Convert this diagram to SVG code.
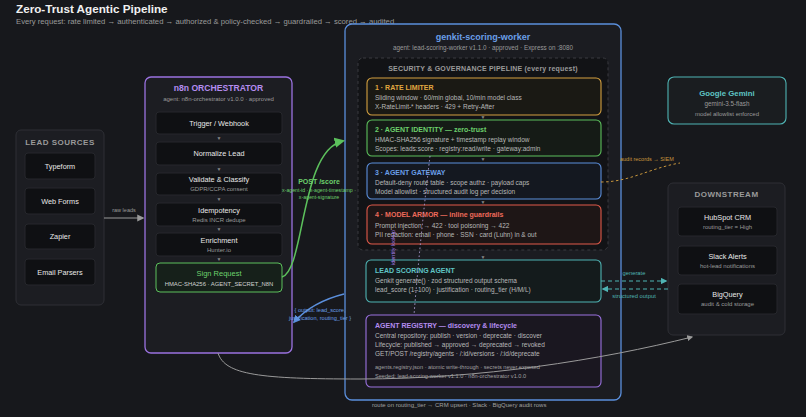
<svg xmlns="http://www.w3.org/2000/svg" width="806" height="417" viewBox="0 0 806 417">
<defs>
<style>
text{font-family:"Liberation Sans",Arial,sans-serif;}
.t{fill:#e8e8e8;font-size:7.3px;text-anchor:middle;}
.s{fill:#9a9a9a;font-size:6px;text-anchor:middle;}
.panel{fill:#1c1d22;stroke:#2e2f35;stroke-width:1;}
.item{fill:#0f1013;stroke:#26272c;stroke-width:1;}
.hd{fill:#9a9a9a;font-size:8px;font-weight:bold;text-anchor:middle;letter-spacing:0.5px;}
.st{font-size:7px;font-weight:bold;}
.sl{fill:#b8b8b8;font-size:6.5px;}
.tri{fill:#888;font-size:5px;text-anchor:middle;}
</style>
<marker id="ag" viewBox="0 0 10 10" refX="8" refY="5" markerWidth="7" markerHeight="7" orient="auto"><path d="M0,0L10,5L0,10z" fill="#5cc05c"/></marker>
<marker id="ab" viewBox="0 0 10 10" refX="8" refY="5" markerWidth="6" markerHeight="6" orient="auto"><path d="M0,0L10,5L0,10z" fill="#5b8fdc"/></marker>
<marker id="agr" viewBox="0 0 10 10" refX="8" refY="5" markerWidth="6" markerHeight="6" orient="auto"><path d="M0,0L10,5L0,10z" fill="#9a9a9a"/></marker>
<marker id="at" viewBox="0 0 10 10" refX="8" refY="5" markerWidth="6" markerHeight="6" orient="auto"><path d="M0,0L10,5L0,10z" fill="#4fb3b3"/></marker>
</defs>
<rect width="806" height="417" fill="#17181c"/>
<text x="16" y="13" style="fill:#f0f0f0;font-size:11.7px;font-weight:bold;">Zero-Trust Agentic Pipeline</text>
<text x="16" y="24" style="fill:#9a9a9a;font-size:7.7px;">Every request: rate limited → authenticated → authorized &amp; policy-checked → guardrailed → scored → audited</text>

<g id="lead-sources">
<rect class="panel" x="16" y="130" width="88" height="175" rx="5"/>
<text class="hd" x="60" y="145">LEAD SOURCES</text>
<rect class="item" x="25" y="153" width="70" height="26" rx="3"/><text class="t" x="60" y="169">Typeform</text>
<rect class="item" x="25" y="188" width="70" height="26" rx="3"/><text class="t" x="60" y="204">Web Forms</text>
<rect class="item" x="25" y="224" width="70" height="25" rx="3"/><text class="t" x="60" y="239">Zapier</text>
<rect class="item" x="25" y="259" width="70" height="26" rx="3"/><text class="t" x="60" y="275">Email Parsers</text>
</g>

<g id="n8n-orchestrator">
<rect x="145" y="77" width="147" height="276" rx="6" fill="#1c1d22" stroke="#9b72e0" stroke-width="1.3"/>
<text x="218.5" y="91" style="fill:#b48cf0;font-size:8.6px;font-weight:bold;text-anchor:middle;">n8n ORCHESTRATOR</text>
<text class="s" x="218.5" y="101">agent: n8n-orchestrator v1.0.0 · approved</text>
<rect class="item" x="156" y="112" width="126" height="22" rx="3"/><text class="t" x="219" y="125.5">Trigger / Webhook</text>
<text class="tri" x="219" y="140">▼</text>
<rect class="item" x="156" y="142" width="126" height="23" rx="3"/><text class="t" x="219" y="156">Normalize Lead</text>
<text class="tri" x="219" y="171">▼</text>
<rect class="item" x="156" y="173" width="126" height="22" rx="3"/><text class="t" x="219" y="182">Validate &amp; Classify</text><text class="s" x="219" y="191">GDPR/CCPA consent</text>
<text class="tri" x="219" y="201">▼</text>
<rect class="item" x="156" y="203" width="126" height="23" rx="3"/><text class="t" x="219" y="213">Idempotency</text><text class="s" x="219" y="222">Redis INCR dedupe</text>
<text class="tri" x="219" y="231">▼</text>
<rect class="item" x="156" y="233" width="126" height="23" rx="3"/><text class="t" x="219" y="243">Enrichment</text><text class="s" x="219" y="252">Hunter.io</text>
<text class="tri" x="219" y="261">▼</text>
<rect x="156" y="263" width="126" height="29" rx="4" fill="#16201a" stroke="#5cc05c" stroke-width="1"/>
<text x="219" y="276" style="fill:#6cd06c;font-size:7.5px;text-anchor:middle;">Sign Request</text>
<text x="219" y="286" style="fill:#d0d0d0;font-size:5.9px;text-anchor:middle;">HMAC-SHA256 · AGENT_SECRET_N8N</text>
</g>

<g id="genkit-scoring-worker">
<rect x="345" y="24" width="276" height="376" rx="7" fill="#1b1c21" stroke="#5b8fdc" stroke-width="1.3"/>
<text x="483" y="40" style="fill:#6a9fe8;font-size:9px;font-weight:bold;text-anchor:middle;">genkit-scoring-worker</text>
<text class="s" x="483" y="50" style="font-size:6.3px;">agent: lead-scoring-worker v1.1.0 · approved · Express on :8080</text>
</g>

<g id="security-pipeline">
<rect x="358" y="58" width="250" height="192" rx="5" fill="#121316" stroke="#3a3b40" stroke-dasharray="3,3"/>
<text class="hd" x="483" y="71" style="font-size:7px;letter-spacing:0.2px;">SECURITY &amp; GOVERNANCE PIPELINE (every request)</text>
</g>

<g id="rate-limiter">
<rect x="367" y="78" width="234" height="37" rx="5" fill="#1a1914" stroke="#d4a040" stroke-width="1.1"/>
<text class="st" x="375" y="90" fill="#e0a840">1 · RATE LIMITER</text>
<text class="sl" x="375" y="100">Sliding window · 60/min global, 10/min model class</text>
<text class="sl" x="375" y="109">X-RateLimit-* headers · 429 + Retry-After</text>
</g>
<text class="tri" x="483" y="119">▼</text>

<g id="agent-identity">
<rect x="367" y="120" width="234" height="36" rx="5" fill="#151b16" stroke="#5cc05c" stroke-width="1.1"/>
<text class="st" x="375" y="132" fill="#6cd06c">2 · AGENT IDENTITY — zero-trust</text>
<text class="sl" x="375" y="142">HMAC-SHA256 signature + timestamp replay window</text>
<text class="sl" x="375" y="151">Scopes: leads:score · registry:read/write · gateway:admin</text>
</g>
<text class="tri" x="483" y="161">▼</text>

<g id="agent-gateway">
<rect x="367" y="163" width="234" height="36" rx="5" fill="#141820" stroke="#5b8fdc" stroke-width="1.1"/>
<text class="st" x="375" y="175" fill="#6a9fe8">3 · AGENT GATEWAY</text>
<text class="sl" x="375" y="185">Default-deny route table · scope authz · payload caps</text>
<text class="sl" x="375" y="194">Model allowlist · structured audit log per decision</text>
</g>
<text class="tri" x="483" y="204">▼</text>

<g id="model-armor">
<rect x="367" y="205" width="234" height="39" rx="5" fill="#1e1616" stroke="#e05a4a" stroke-width="1.1"/>
<text class="st" x="375" y="217" fill="#ee6a5a">4 · MODEL ARMOR — inline guardrails</text>
<text class="sl" x="375" y="228">Prompt injection → 422 · tool poisoning → 422</text>
<text class="sl" x="375" y="237">PII redaction: email · phone · SSN · card (Luhn) in &amp; out</text>
</g>
<text class="tri" x="483" y="259">▼</text>

<g id="lead-scoring-agent">
<rect x="366" y="260" width="235" height="42" rx="5" fill="#141b1c" stroke="#4fb3b3" stroke-width="1.1"/>
<text class="st" x="375" y="273" fill="#5fc5c5">LEAD SCORING AGENT</text>
<text class="sl" x="375" y="283">Genkit generate() · zod structured output schema</text>
<text class="sl" x="375" y="292">lead_score (1–100) · justification · routing_tier (H/M/L)</text>
</g>

<g id="agent-registry">
<rect x="366" y="315" width="235" height="72" rx="5" fill="#1a1720" stroke="#9b72e0" stroke-width="1.1"/>
<text class="st" x="375" y="328" fill="#b48cf0">AGENT REGISTRY — discovery &amp; lifecycle</text>
<text class="sl" x="375" y="338">Central repository: publish · version · deprecate · discover</text>
<text class="sl" x="375" y="347">Lifecycle: published → approved → deprecated → revoked</text>
<text class="sl" x="375" y="356">GET/POST /registry/agents · /:id/versions · /:id/deprecate</text>
<text x="375" y="369" style="fill:#a0a0a0;font-size:5.6px;">agents.registry.json · atomic write-through · secrets never exposed</text>
<text x="375" y="378" style="fill:#a0a0a0;font-size:5.6px;">Seeded: lead-scoring-worker v1.1.0 · n8n-orchestrator v1.0.0</text>
</g>

<g id="google-gemini">
<rect x="668" y="77" width="118" height="47" rx="6" fill="#1a1d20" stroke="#4fb3b3" stroke-width="1.1"/>
<text x="727" y="96" style="fill:#5fc5c5;font-size:7.8px;font-weight:bold;text-anchor:middle;">Google Gemini</text>
<text class="s" x="727" y="106" style="font-size:6.3px;">gemini-3.5-flash</text>
<text class="s" x="727" y="116">model allowlist enforced</text>
</g>

<g id="downstream">
<rect class="panel" x="668" y="183" width="117" height="152" rx="5"/>
<text class="hd" x="726.5" y="197">DOWNSTREAM</text>
<rect class="item" x="678" y="207" width="99" height="29" rx="3"/><text class="t" x="727.5" y="220">HubSpot CRM</text><text class="s" x="727.5" y="229">routing_tier = High</text>
<rect class="item" x="678" y="246" width="99" height="29" rx="3"/><text class="t" x="727.5" y="259">Slack Alerts</text><text class="s" x="727.5" y="268">hot-lead notifications</text>
<rect class="item" x="678" y="284" width="99" height="30" rx="3"/><text class="t" x="727.5" y="297">BigQuery</text><text class="s" x="727.5" y="306">audit &amp; cold storage</text>
</g>

<g id="connectors" fill="none">
<path d="M104,218 H143" stroke="#9a9a9a" stroke-width="1.2" marker-end="url(#agr)"/>
<text x="124" y="212" style="fill:#9a9a9a;font-size:5.5px;text-anchor:middle;">raw leads</text>

<path d="M282,277 C305,270 300,150 343,141" stroke="#5cc05c" stroke-width="1.5" marker-end="url(#ag)"/>
<text x="319" y="184" style="fill:#6cd06c;font-size:7px;font-weight:bold;text-anchor:middle;">POST /score</text>
<text x="319" y="192" style="fill:#6cd06c;font-size:5.2px;text-anchor:middle;">x-agent-id · x-agent-timestamp ·</text>
<text x="319" y="199" style="fill:#6cd06c;font-size:5.2px;text-anchor:middle;">x-agent-signature</text>

<path d="M344,294 C320,300 305,310 294,322" stroke="#5b8fdc" stroke-width="1.3" marker-end="url(#ab)"/>
<text x="320" y="312" style="fill:#6a9fe8;font-size:5.6px;text-anchor:middle;">{ output: lead_score,</text>
<text x="320" y="320" style="fill:#6a9fe8;font-size:5.6px;text-anchor:middle;">justification, routing_tier }</text>

<path d="M430,156 Q420,240 414,315" stroke="#b0a0d8" stroke-width="1" stroke-dasharray="1.5,2.5"/>
<text transform="translate(395,265) rotate(-90)" style="fill:#a57ee8;font-size:5.5px;">identity lookup</text>

<path d="M601,182 C630,182 650,168 680,163" stroke="#c8963c" stroke-width="1" stroke-dasharray="2.5,2.5"/>
<text x="620" y="161" style="fill:#c8963c;font-size:5.5px;">audit records → SIEM</text>

<path d="M601,281 H666" stroke="#4fb3b3" stroke-width="1.1" stroke-dasharray="4,3" marker-end="url(#at)"/>
<path d="M668,289 H603" stroke="#4fb3b3" stroke-width="1.1" stroke-dasharray="4,3" marker-end="url(#at)"/>
<text x="634" y="275" style="fill:#4fb3b3;font-size:5.8px;text-anchor:middle;">generate</text>
<text x="634" y="298" style="fill:#4fb3b3;font-size:5.8px;text-anchor:middle;">structured output</text>

<path d="M218,353 C225,375 260,379 360,379 C480,379 600,360 692,337" stroke="#9a9a9a" stroke-width="1" marker-end="url(#agr)"/>
<text x="372" y="407" style="fill:#a0a0a0;font-size:6px;">route on routing_tier → CRM upsert · Slack · BigQuery audit rows</text>
</g>
</svg>
